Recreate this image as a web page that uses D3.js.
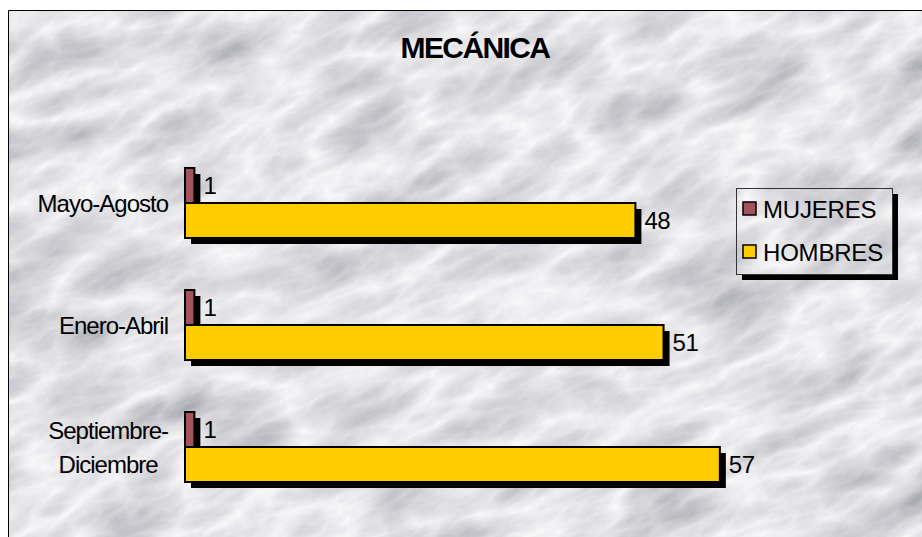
<!DOCTYPE html>
<html>
<head>
<meta charset="utf-8">
<script src="https://cdn.jsdelivr.net/npm/d3@7"></script>
<style>
html,body{margin:0;padding:0;background:#fff;}
svg{display:block;font-family:"Liberation Sans",Arial,sans-serif;}
</style>
</head>
<body>
<svg id="chart" width="922" height="537"></svg>
<script>
const title = "MECÁNICA";
const categories = [["Mayo-Agosto"], ["Enero-Abril"], ["Septiembre-", "Diciembre"]];
const seriesNames = ["MUJERES", "HOMBRES"];
const mujeres = [1, 1, 1];
const hombres = [48, 51, 57];
const colors = ["#A3535B", "#FFCC00"];

const svg = d3.select("#chart");
const W = 922, H = 537;

// marble-like background
const defs = svg.append("defs");
const f = defs.append("filter").attr("id","marble").attr("x",0).attr("y",0).attr("width","100%").attr("height","100%");
f.append("feTurbulence").attr("type","turbulence").attr("baseFrequency","0.008 0.02").attr("numOctaves",6).attr("seed",7).attr("result","t");
f.append("feColorMatrix").attr("in","t").attr("type","matrix")
 .attr("values","-0.7 0 0 0 0.97  -0.7 0 0 0 0.97  -0.65 0 0 0 0.98  0 0 0 0 1");
svg.append("g").attr("transform","rotate(-25 461 268)")
  .append("rect").attr("x",-200).attr("y",-300).attr("width",1400).attr("height",1200).attr("filter","url(#marble)");
// white outside the frame
svg.append("rect").attr("x",0).attr("y",0).attr("width",W).attr("height",10).attr("fill","#fff");
svg.append("rect").attr("x",0).attr("y",0).attr("width",8).attr("height",H).attr("fill","#fff");
svg.append("path").attr("d",`M8.5,${H} V10.5 H${W}`).attr("fill","none").attr("stroke","#000").attr("stroke-width",1);

// title
svg.append("text").attr("x",475).attr("y",58).attr("text-anchor","middle")
  .attr("font-size",30).attr("font-weight","bold").attr("letter-spacing",-1.6).text(title);

// scales
const catKeys = categories.map(d => d.join(" "));
const yCenter = d3.scalePoint().domain(catKeys).range([203, 447]);
const yInner = d3.scaleBand().domain(seriesNames).range([-35, 35]);
const x = d3.scaleLinear().domain([0, 60]).range([185, 748]);

const data = [];
catKeys.forEach((c,i) => {
  data.push({cat:c, s:"MUJERES", v:mujeres[i], color:colors[0]});
  data.push({cat:c, s:"HOMBRES", v:hombres[i], color:colors[1]});
});
const by = d => yCenter(d.cat) + yInner(d.s);
const off = 6;

// shadows
svg.append("g").selectAll("rect").data(data).join("rect")
  .attr("x", x(0) + off).attr("y", d => by(d) + off)
  .attr("width", d => x(d.v) - x(0)).attr("height", yInner.bandwidth())
  .attr("fill","#000");
// bars
svg.append("g").selectAll("rect").data(data).join("rect")
  .attr("x", x(0)).attr("y", d => by(d))
  .attr("width", d => x(d.v) - x(0)).attr("height", yInner.bandwidth())
  .attr("fill", d => d.color).attr("stroke","#000").attr("stroke-width",2);

// value labels
svg.append("g").selectAll("text").data(data).join("text")
  .attr("x", d => x(d.v) + off + 3).attr("y", d => by(d) + yInner.bandwidth()/2)
  .attr("dy","0.36em").attr("font-size",24).attr("letter-spacing",-0.5).text(d => d.v);

// category labels
const catG = svg.append("g");
categories.forEach((lines,i) => {
  const cy = yCenter(catKeys[i]);
  const lh = 34;
  const t = catG.append("text").attr("font-size",24).attr("letter-spacing",-1).attr("text-anchor","middle");
  lines.forEach((ln,j) => {
    t.append("tspan").attr("x",0).attr("y", cy + (j - (lines.length-1)/2)*lh).attr("dy","0.36em").text(ln);
  });
  let maxW = 0;
  t.selectAll("tspan").each(function(){ maxW = Math.max(maxW, this.getComputedTextLength()); });
  t.selectAll("tspan").attr("x", 168 - maxW/2);
});

// legend
const lx = 736, ly = 188, lw = 156, lh2 = 86;
svg.append("path").attr("d",`M${lx+lw},${ly+6} h6 v${lh2} h${-lw} v-6 h${lw-6} z`).attr("fill","#000");
svg.append("rect").attr("x",lx+0.5).attr("y",ly+0.5).attr("width",lw).attr("height",lh2)
  .attr("fill","none").attr("stroke","#333").attr("stroke-width",1);
const lg = svg.append("g").selectAll("g").data(seriesNames).join("g")
  .attr("transform",(d,i)=>`translate(${lx+7},${ly+14+i*43})`);
lg.append("rect").attr("width",13).attr("height",13).attr("fill",(d,i)=>colors[i]).attr("stroke","#000").attr("stroke-width",1.5);
lg.append("text").attr("x",20).attr("y",7).attr("dy","0.36em").attr("font-size",24).attr("letter-spacing",-0.2).text(d=>d);
</script>
</body>
</html>
